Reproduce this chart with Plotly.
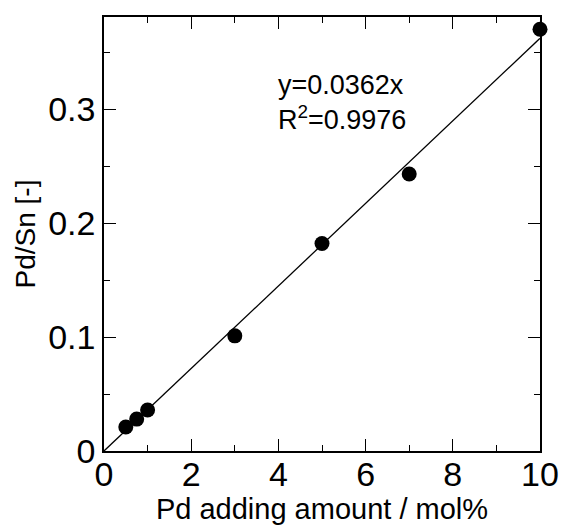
import plotly.graph_objects as go

pd_amount = [0.5, 0.75, 1.0, 3.0, 5.0, 7.0, 10.0]
pd_sn = [0.021, 0.028, 0.036, 0.101, 0.182, 0.243, 0.370]
slope = 0.0362
fit_x = [0, 10]
fit_y = [slope * v for v in fit_x]

FONT = "Liberation Sans, Arial, sans-serif"

fig = go.Figure()
fig.add_trace(go.Scatter(x=fit_x, y=fit_y, mode="lines",
                         line=dict(color="black", width=1.3), showlegend=False))
fig.add_trace(go.Scatter(x=pd_amount, y=pd_sn, mode="markers",
                         marker=dict(color="black", size=15), showlegend=False,
                         cliponaxis=False))

axis_common = dict(showline=True, linecolor="black", linewidth=1.5, mirror="ticks",
                   ticks="inside", ticklen=12, tickwidth=1.3, tickcolor="black",
                   showgrid=False, zeroline=False,
                   tickfont=dict(family=FONT, size=34, color="black"))

fig.update_xaxes(range=[0, 10], tick0=0, dtick=2, ticklabelstandoff=-8,
                 minor=dict(ticks="inside", ticklen=6, tickwidth=1.3, tickcolor="black", dtick=1),
                 title=dict(text="Pd adding amount / mol%", font=dict(family=FONT, size=29, color="black"),
                            standoff=2),
                 **axis_common)
fig.update_yaxes(range=[0, 0.3807], tick0=0, dtick=0.1, tickformat=".1~f",
                 minor=dict(ticks="inside", ticklen=6, tickwidth=1.3, tickcolor="black", dtick=0.05),
                 title=dict(text="Pd/Sn [-]", font=dict(family=FONT, size=28, color="black"),
                            standoff=4),
                 **axis_common)

fig.add_annotation(x=0.395, y=0.883, xref="paper", yref="paper", xanchor="left", yanchor="top",
                   text="y=0.0362x<br>R<sup>2</sup>=0.9976", showarrow=False, align="left",
                   font=dict(family=FONT, size=27, color="black"))

fig.update_layout(width=562, height=527, margin=dict(l=104, r=22, t=17, b=76, autoexpand=False),
                  plot_bgcolor="white", paper_bgcolor="white")

fig.write_html("out.html")
